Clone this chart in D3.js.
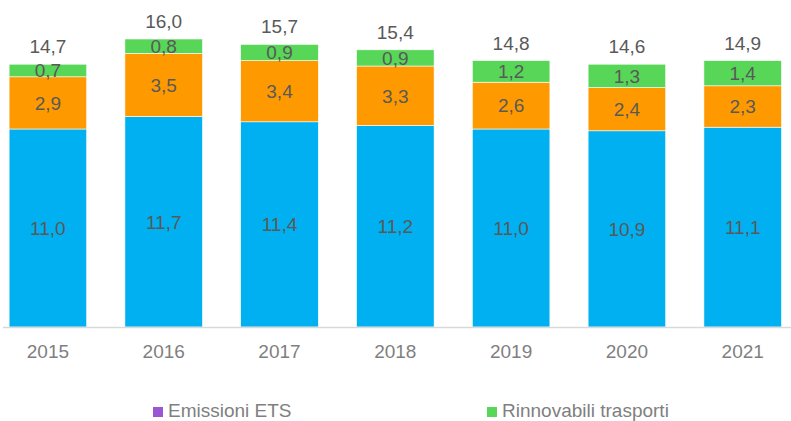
<!DOCTYPE html>
<html>
<head>
<meta charset="utf-8">
<script src="https://cdn.jsdelivr.net/npm/d3@7"></script>
<style>
  body { margin: 0; background: #fff; }
  svg { display: block; font-family: "Liberation Sans", Arial, sans-serif; }
</style>
</head>
<body>
<div id="chart"></div>
<script>
// data
var years = ["2015", "2016", "2017", "2018", "2019", "2020", "2021"];
var emissioniETS = [11.0, 11.7, 11.4, 11.2, 11.0, 10.9, 11.1];
var secondaSerie = [2.9, 3.5, 3.4, 3.3, 2.6, 2.4, 2.3];
var rinnovabiliTrasporti = [0.7, 0.8, 0.9, 0.9, 1.2, 1.3, 1.4];
var totali = [14.7, 16.0, 15.7, 15.4, 14.8, 14.6, 14.9];

var seriesKeys = ["blue", "orange", "green"];
var colors = {blue: "#00B0F0", orange: "#FF9900", green: "#57D657"};
var legendItems = [
  {name: "Emissioni ETS", color: "#9B57D3"},
  {name: "Rinnovabili trasporti", color: "#57D657"}
];

var width = 791, height = 421;
var baseline = 327;

var svg = d3.select("#chart").append("svg")
  .attr("width", width)
  .attr("height", height);

var rows = years.map(function(y, i) {
  return {year: y, blue: emissioniETS[i], orange: secondaSerie[i], green: rinnovabiliTrasporti[i], total: totali[i]};
});

var x = d3.scaleBand()
  .domain(years)
  .range([-10, 800.6])
  .paddingInner(0.33)
  .paddingOuter(0.165);

var y = d3.scaleLinear()
  .domain([0, 16])
  .range([baseline, baseline - 16 * 18]);

var stack = d3.stack().keys(seriesKeys);
var layers = stack(rows);

var fmt = function(v) { return d3.format(".1f")(v).replace(".", ","); };

var groups = svg.selectAll("g.layer")
  .data(layers)
  .enter().append("g")
  .attr("class", "layer")
  .attr("fill", function(d) { return colors[d.key]; });

groups.selectAll("rect")
  .data(function(d) { return d; })
  .enter().append("rect")
  .attr("x", function(d) { return x(d.data.year); })
  .attr("width", x.bandwidth())
  .attr("y", function(d) { return y(d[1]); })
  .attr("height", function(d) { return y(d[0]) - y(d[1]); })
  .attr("stroke", "#ffffff")
  .attr("stroke-width", 0.6);

// value labels inside segments
groups.selectAll("text")
  .data(function(d) { return d.map(function(p) { return {p: p, key: d.key}; }); })
  .enter().append("text")
  .attr("x", function(d) { return x(d.p.data.year) + x.bandwidth() / 2; })
  .attr("y", function(d) { return (y(d.p[0]) + y(d.p[1])) / 2; })
  .attr("dy", "0.36em")
  .attr("text-anchor", "middle")
  .attr("fill", "#595959")
  .style("font-size", "19px")
  .text(function(d) { return fmt(d.p.data[d.key]); });

// totals
svg.append("g").selectAll("text")
  .data(layers[layers.length - 1])
  .enter().append("text")
  .attr("x", function(d) { return x(d.data.year) + x.bandwidth() / 2; })
  .attr("y", function(d) { return y(d[1]) - 11; })
  .attr("text-anchor", "middle")
  .attr("fill", "#595959")
  .style("font-size", "19px")
  .text(function(d) { return fmt(d.data.total); });

// x axis
var xAxis = svg.append("g")
  .attr("transform", "translate(0," + baseline + ")")
  .call(d3.axisBottom(x).tickSize(0).tickPadding(18));
xAxis.select(".domain").remove();
xAxis.append("line")
  .attr("x1", 3).attr("x2", 791)
  .attr("y1", 0.5).attr("y2", 0.5)
  .attr("stroke", "#D9D9D9")
  .attr("stroke-width", 1.3);
xAxis.selectAll(".tick text")
  .attr("fill", "#7F7F7F")
  .style("font-size", "19px")
  .style("font-family", "'Liberation Sans', Arial, sans-serif");

// legend
var legendX = [153, 487];
var legend = svg.append("g").selectAll("g")
  .data(legendItems)
  .enter().append("g")
  .attr("transform", function(d, i) { return "translate(" + legendX[i] + ",407)"; });
legend.append("rect")
  .attr("width", 10).attr("height", 10)
  .attr("fill", function(d) { return d.color; });
legend.append("text")
  .attr("x", 15).attr("y", 10)
  .attr("fill", "#7F7F7F")
  .style("font-size", "19px")
  .text(function(d) { return d.name; });
</script>
</body>
</html>
